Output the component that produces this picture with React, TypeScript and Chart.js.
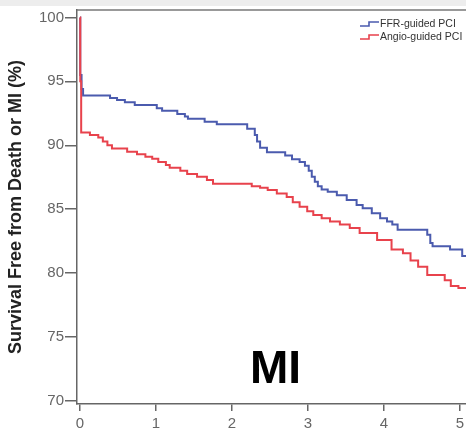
import React, { useEffect, useRef } from 'react';
import { Chart, registerables } from 'chart.js';

Chart.register(...registerables);

const xTickValues = [0, 1, 2, 3, 4, 5];
const yTickValues = [70, 75, 80, 85, 90, 95, 100];

const seriesLabels = ['FFR-guided PCI', 'Angio-guided PCI'];
const panelLabel = 'MI';
const yAxisTitle = 'Survival Free from Death or MI (%)';

const ffrTimes = [0, 0.003, 0.02, 0.04, 0.395, 0.487, 0.59, 0.72, 1.01, 1.08, 1.28, 1.38, 1.42, 1.64, 1.8, 2.2, 2.3, 2.33, 2.37, 2.46, 2.7, 2.79, 2.89, 2.96, 3.01, 3.05, 3.09, 3.13, 3.18, 3.26, 3.38, 3.51, 3.64, 3.72, 3.84, 3.95, 4.04, 4.11, 4.18, 4.57, 4.61, 4.64, 4.87, 5.03, 5.1];
const ffrSurvival = [100, 95.5, 94.4, 93.9, 93.7, 93.55, 93.36, 93.15, 92.9, 92.7, 92.45, 92.25, 92.07, 91.85, 91.65, 91.3, 90.8, 90.3, 89.8, 89.45, 89.2, 88.9, 88.7, 88.4, 88.0, 87.55, 87.15, 86.8, 86.55, 86.37, 86.1, 85.73, 85.34, 85.08, 84.69, 84.3, 84.05, 83.8, 83.4, 83.0, 82.36, 82.1, 81.85, 81.35, 81.35];

const angioTimes = [0, 0.003, 0.015, 0.13, 0.24, 0.3, 0.36, 0.42, 0.62, 0.75, 0.86, 0.95, 1.03, 1.13, 1.18, 1.32, 1.41, 1.54, 1.67, 1.75, 2.26, 2.37, 2.47, 2.59, 2.72, 2.8, 2.89, 2.99, 3.07, 3.18, 3.29, 3.42, 3.55, 3.68, 3.91, 4.1, 4.25, 4.35, 4.45, 4.57, 4.8, 4.88, 4.98, 5.1];
const angioSurvival = [100, 95, 91.0, 90.8, 90.6, 90.3, 90.0, 89.75, 89.5, 89.3, 89.1, 88.95, 88.7, 88.45, 88.25, 88.0, 87.75, 87.55, 87.28, 87.0, 86.8, 86.68, 86.5, 86.24, 85.95, 85.55, 85.2, 84.85, 84.55, 84.3, 84.05, 83.8, 83.53, 83.14, 82.6, 81.85, 81.55, 81.0, 80.5, 79.85, 79.45, 79.0, 78.85, 78.85];

const seriesColors = ['#4b5bae', '#e8424c'];

const FONT = '"Liberation Sans", Arial, Helvetica, sans-serif';

const decorPlugin = {
  id: 'decor',
  beforeDraw(chart: any) {
    const { ctx, width } = chart;
    ctx.save();
    ctx.fillStyle = '#ffffff';
    ctx.fillRect(0, 0, width, chart.height);
    ctx.fillStyle = '#ededed';
    ctx.fillRect(0, 0, width, 6);
    ctx.restore();
  },
  afterDraw(chart: any) {
    const { ctx, chartArea } = chart;
    ctx.save();
    ctx.strokeStyle = '#777777';
    ctx.lineWidth = 1.5;
    ctx.beginPath();
    ctx.moveTo(chartArea.left, chartArea.top);
    ctx.lineTo(chartArea.right, chartArea.top);
    ctx.stroke();

    ctx.fillStyle = '#000000';
    ctx.font = `bold 46px ${FONT}`;
    ctx.textBaseline = 'alphabetic';
    ctx.textAlign = 'left';
    ctx.fillText(panelLabel, 250, 383);

    ctx.font = `10.5px ${FONT}`;
    ctx.textBaseline = 'middle';
    chart.data.datasets.forEach((ds: any, i: number) => {
      const cy = 24 + i * 13;
      const x0 = 360;
      ctx.strokeStyle = ds.borderColor;
      ctx.lineWidth = 1.6;
      ctx.beginPath();
      ctx.moveTo(x0, cy + 2);
      ctx.lineTo(x0 + 9, cy + 2);
      ctx.lineTo(x0 + 9, cy - 2);
      ctx.lineTo(x0 + 19, cy - 2);
      ctx.stroke();
      ctx.fillStyle = '#333333';
      ctx.fillText(ds.label, x0 + 20, cy);
    });
    ctx.restore();
  },
};

export default function App() {
  const canvasRef = useRef<HTMLCanvasElement | null>(null);

  useEffect(() => {
    const canvas = canvasRef.current;
    if (!canvas) return;
    const chart = new Chart(canvas, {
      type: 'line',
      data: {
        datasets: [
          {
            label: seriesLabels[0],
            data: ffrTimes.map((t, i) => ({ x: t, y: ffrSurvival[i] })),
            borderColor: seriesColors[0],
            borderWidth: 2,
            pointRadius: 0,
            stepped: 'before',
            fill: false,
            order: 2,
          },
          {
            label: seriesLabels[1],
            data: angioTimes.map((t, i) => ({ x: t, y: angioSurvival[i] })),
            borderColor: seriesColors[1],
            borderWidth: 2,
            pointRadius: 0,
            stepped: 'before',
            fill: false,
            order: 1,
          },
        ],
      },
      options: {
        responsive: false,
        animation: false,
        devicePixelRatio: 1,
        layout: { padding: { top: 7, left: 0, right: 0, bottom: 0 } },
        plugins: {
          legend: { display: false },
          tooltip: { enabled: false },
          title: { display: false },
        },
        scales: {
          x: {
            type: 'linear',
            min: -0.04,
            max: 5.08,
            afterBuildTicks: (s: any) => {
              s.ticks = xTickValues.map((v) => ({ value: v }));
            },
            afterFit: (s: any) => {
              s.height = 29;
              s.paddingLeft = 0;
              s.paddingRight = 0;
            },
            grid: {
              drawOnChartArea: false,
              drawTicks: true,
              tickLength: 7,
              color: '#666666',
              lineWidth: 1.5,
            },
            border: { display: true, color: '#666666', width: 1.5 },
            ticks: {
              color: '#666666',
              font: { family: FONT, size: 15 },
              padding: 4,
              maxRotation: 0,
              autoSkip: false,
            },
          },
          y: {
            type: 'linear',
            min: 69.77,
            max: 100.58,
            afterBuildTicks: (s: any) => {
              s.ticks = yTickValues.map((v) => ({ value: v }));
            },
            afterFit: (s: any) => {
              s.width = 77;
            },
            grid: {
              drawOnChartArea: false,
              drawTicks: true,
              tickLength: 12,
              color: '#666666',
              lineWidth: 1.5,
            },
            border: { display: true, color: '#666666', width: 1.5 },
            ticks: {
              color: '#666666',
              font: { family: FONT, size: 15 },
              padding: 1,
            },
            title: {
              display: true,
              text: yAxisTitle,
              color: '#222222',
              font: { family: FONT, size: 18, weight: 'bold' },
              padding: { top: 5, bottom: 0 },
            },
          },
        },
      },
      plugins: [decorPlugin],
    });
    return () => chart.destroy();
  }, []);

  return (
    <div style={{ position: 'fixed', left: 0, top: 0, width: 466, height: 433, background: '#fff' }}>
      <canvas ref={canvasRef} width={466} height={433} style={{ display: 'block' }} />
    </div>
  );
}
